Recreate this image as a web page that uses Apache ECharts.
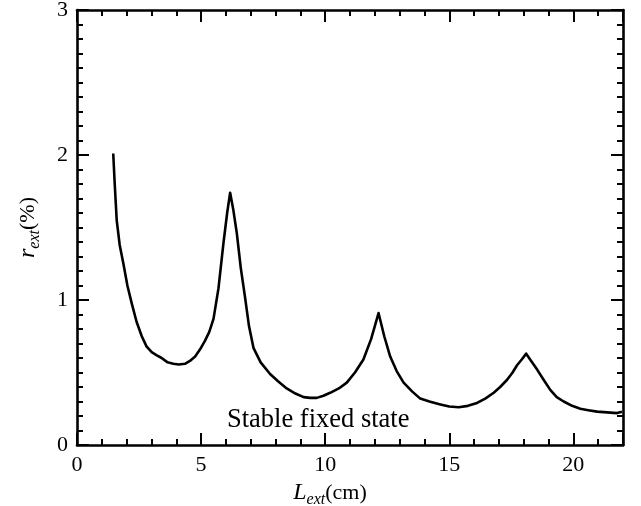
<!DOCTYPE html>
<html>
<head>
<meta charset="utf-8">
<script src="https://cdn.jsdelivr.net/npm/echarts@6/dist/echarts.min.js"></script>
<style>html,body{margin:0;padding:0;background:#fff}#c{width:641px;height:506px}</style>
</head>
<body>
<div id="c"></div>
<script>
const L_ext = [1.46, 1.52, 1.6, 1.72, 1.87, 2.03, 2.2, 2.4, 2.61, 2.8, 3.01, 3.2, 3.41, 3.65, 3.88, 4.1, 4.35, 4.55, 4.76, 4.96, 5.16, 5.33, 5.5, 5.7, 5.9, 6.05, 6.17, 6.3, 6.44, 6.6, 6.77, 6.93, 7.11, 7.4, 7.78, 8.1, 8.45, 8.8, 9.13, 9.4, 9.66, 9.93, 10.2, 10.55, 10.87, 11.2, 11.54, 11.85, 12.15, 12.38, 12.62, 12.88, 13.16, 13.5, 13.83, 14.2, 14.64, 15.0, 15.38, 15.75, 16.12, 16.45, 16.79, 17.05, 17.33, 17.55, 17.73, 17.92, 18.1, 18.3, 18.54, 18.8, 19.07, 19.33, 19.61, 19.95, 20.28, 20.6, 20.96, 21.36, 21.76, 21.96];
const r_ext = [2.01, 1.8, 1.55, 1.38, 1.25, 1.1, 0.98, 0.85, 0.75, 0.68, 0.64, 0.62, 0.6, 0.57, 0.56, 0.555, 0.56, 0.58, 0.61, 0.66, 0.72, 0.78, 0.87, 1.08, 1.39, 1.6, 1.74, 1.62, 1.46, 1.22, 1.02, 0.82, 0.67, 0.57, 0.49, 0.44, 0.39, 0.355, 0.33, 0.325, 0.325, 0.34, 0.36, 0.39, 0.43, 0.5, 0.59, 0.73, 0.91, 0.75, 0.61, 0.51, 0.43, 0.37, 0.32, 0.3, 0.28, 0.265, 0.26, 0.27, 0.29, 0.32, 0.36, 0.4, 0.45, 0.5, 0.55, 0.59, 0.63, 0.58, 0.52, 0.45, 0.38, 0.33, 0.30, 0.27, 0.25, 0.24, 0.23, 0.225, 0.22, 0.23];
const xTicks = [0, 5, 10, 15, 20];
const yTicks = [0, 1, 2, 3];
const annotation = 'Stable fixed state';

const FONT = "'Liberation Serif', 'Times New Roman', serif";
const chart = echarts.init(document.getElementById('c'), null, {renderer: 'canvas'});
const axisLine = () => ({show: true, onZero: false, lineStyle: {color: '#000', width: 2.6}});
const majorTick = () => ({show: true, inside: true, length: 12, lineStyle: {color: '#000', width: 2}});
const minorTick = n => ({show: true, splitNumber: n, length: 6, lineStyle: {color: '#000', width: 2}});
const richName = {
  i: {fontFamily: FONT, fontStyle: 'italic', fontSize: 24, color: '#000', lineHeight: 30, verticalAlign: 'middle'},
  sub: {fontFamily: FONT, fontStyle: 'italic', fontSize: 16, color: '#000', lineHeight: 30, verticalAlign: 'bottom'},
  n: {fontFamily: FONT, fontSize: 22, color: '#000', lineHeight: 30, verticalAlign: 'middle'}
};
const data = L_ext.map((x, i) => [x, r_ext[i]]);
chart.setOption({
  animation: false,
  backgroundColor: '#fff',
  grid: {left: 77, right: 18, top: 10, bottom: 61, containLabel: false, outerBoundsMode: 'none'},
  xAxis: [{
    type: 'value', min: 0, max: 22, interval: 5, position: 'bottom',
    axisLine: axisLine(), axisTick: majorTick(), minorTick: minorTick(5),
    splitLine: {show: false},
    axisLabel: {show: true, margin: 9, fontFamily: FONT, fontSize: 22, color: '#000',
      formatter: v => xTicks.includes(v) ? String(v) : ''},
    name: '{i|L}{sub|ext}{n|(cm)}', nameLocation: 'middle', nameGap: 24,
    nameTextStyle: {rich: richName, padding: [0, 40, 0, 0]}
  }, {
    type: 'value', min: 0, max: 22, interval: 5, position: 'top',
    axisLine: axisLine(), axisTick: majorTick(), minorTick: minorTick(5),
    splitLine: {show: false}, axisLabel: {show: false}
  }],
  yAxis: [{
    type: 'value', min: 0, max: 3, interval: 1, position: 'left',
    axisLine: axisLine(), axisTick: majorTick(), minorTick: minorTick(10),
    splitLine: {show: false},
    axisLabel: {show: true, margin: 9, fontFamily: FONT, fontSize: 22, color: '#000',
      formatter: v => yTicks.includes(v) ? String(v) : ''},
    name: '{i|r}{sub|ext}{n|(%)}', nameLocation: 'middle', nameGap: 34, nameRotate: 90,
    nameTextStyle: {rich: richName}
  }, {
    type: 'value', min: 0, max: 3, interval: 1, position: 'right',
    axisLine: axisLine(), axisTick: majorTick(), minorTick: minorTick(10),
    splitLine: {show: false}, axisLabel: {show: false}
  }],
  series: [{
    type: 'line', data: data, showSymbol: false, smooth: false,
    lineStyle: {color: '#000', width: 2.6, join: 'round'}, clip: true
  }],
  graphic: [{
    type: 'text', left: 227, top: 407,
    style: {text: annotation, fontFamily: FONT, fontSize: 26.5, fill: '#000'}
  }]
});
</script>
</body>
</html>
